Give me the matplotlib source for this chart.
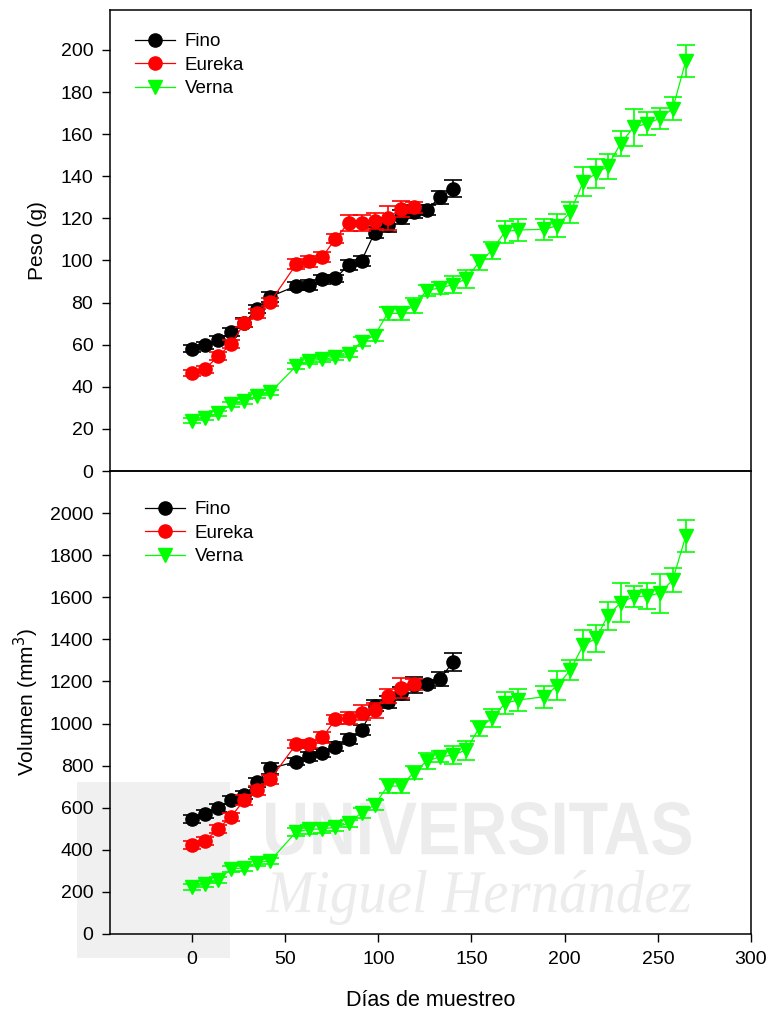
import matplotlib
matplotlib.use('Agg')
import matplotlib.pyplot as plt
from matplotlib.lines import Line2D
from matplotlib.textpath import TextPath
from matplotlib.patches import PathPatch, Rectangle
from matplotlib.font_manager import FontProperties
from matplotlib.transforms import Affine2D

plt.rcParams['font.family'] = ['Liberation Sans', 'DejaVu Sans']

# dias de muestreo
dias_fino = [0, 7, 14, 21, 28, 35, 42, 56, 63, 70, 77, 84, 91, 98, 105, 112, 119, 126, 133, 140]
dias_eureka = [0, 7, 14, 21, 28, 35, 42, 56, 63, 70, 77, 84, 91, 98, 105, 112, 119]
dias_verna = [0, 7, 14, 21, 28, 35, 42, 56, 63, 70, 77, 84, 91, 98, 105, 112, 119, 126,
              133, 140, 147, 154, 161, 168, 175, 189, 196, 203, 210, 217, 223, 230, 237,
              244, 251, 258, 265]

# peso (g)
peso_fino = [58.1, 59.7, 62.1, 66.0, 70.5, 77.0, 82.8, 88.0, 88.2, 91.0, 91.5, 97.9, 99.9,
             113.2, 117.0, 120.5, 123.2, 124.0, 130.0, 134.1]
peso_fino_err = [1.8, 1.8, 1.8, 2.0, 2.0, 2.0, 2.4, 1.8, 2.4, 2.2, 1.8, 2.4, 2.4, 2.6, 3.4,
                 3.3, 3.2, 2.2, 3.2, 4.1]
peso_eureka = [46.7, 48.3, 54.6, 60.2, 70.2, 74.9, 80.3, 98.3, 99.6, 101.7, 110.4, 117.8,
               117.8, 118.9, 120.2, 124.5, 125.4]
peso_eureka_err = [1.5, 1.8, 2.0, 2.0, 2.0, 2.0, 2.0, 2.5, 2.5, 2.3, 2.0, 3.7, 3.7, 3.7,
                   5.7, 3.6, 2.6]
peso_verna = [23.8, 25.3, 27.4, 31.8, 33.1, 35.8, 37.4, 49.9, 52.4, 53.1, 54.0, 55.6, 61.4,
              64.3, 74.9, 74.9, 78.6, 85.7, 87.0, 88.5, 91.2, 99.1, 104.8, 113.7, 114.5,
              114.8, 116.5, 122.9, 137.4, 141.4, 144.7, 155.5, 163.3, 165.0, 167.5, 172.1,
              194.8]
peso_verna_err = [1.2, 1.2, 1.2, 1.2, 1.2, 1.2, 1.2, 1.5, 1.5, 1.5, 1.5, 1.5, 2.2, 2.6, 3.0,
                  3.0, 3.7, 2.8, 2.7, 4.0, 4.5, 3.5, 4.1, 5.3, 5.1, 5.1, 5.4, 5.1, 6.9, 6.9,
                  6.1, 5.9, 8.9, 5.5, 4.9, 5.4, 7.4]

# volumen (mm3)
vol_fino = [546, 570, 600, 637, 660, 720, 787, 819, 844, 861, 890, 926, 969, 1085, 1104,
            1143, 1183, 1188, 1210, 1292]
vol_fino_err = [18, 18, 18, 20, 20, 22, 25, 18, 22, 20, 20, 25, 22, 25, 28, 32, 40, 20, 33, 41]
vol_eureka = [423, 442, 500, 557, 637, 683, 735, 903, 904, 934, 1020, 1026, 1051, 1064,
              1131, 1170, 1186]
vol_eureka_err = [18, 18, 20, 20, 22, 22, 22, 20, 20, 25, 20, 30, 35, 36, 33, 48, 25]
vol_verna = [222, 238, 257, 310, 314, 339, 348, 486, 497, 500, 507, 526, 576, 613, 703, 703,
             766, 822, 842, 850, 874, 977, 1025, 1096, 1112, 1127, 1180, 1254, 1373, 1405,
             1511, 1574, 1603, 1606, 1619, 1682, 1891]
vol_verna_err = [15, 15, 15, 15, 15, 15, 15, 20, 20, 18, 18, 18, 25, 22, 32, 32, 30, 38, 26,
                 44, 45, 34, 43, 52, 53, 51, 68, 46, 70, 63, 68, 92, 51, 63, 92, 58, 77]

nombres = ['Fino', 'Eureka', 'Verna']
colores = ['black', 'red', '#00ff00']
marcadores = ['o', 'o', 'v']

fig = plt.figure(figsize=(7.68, 10.10), dpi=100)
W, H = 768, 1010

# marca de agua (fondo)
fig.add_artist(Rectangle((77, H - 958), 153, 176, transform=None,
                         facecolor='#f0f0f0', edgecolor='none', zorder=-2))


def texto_caja(s, prop, x0, y0, x1, y1, color):
    tp = TextPath((0, 0), s, size=100, prop=prop)
    ext = tp.get_extents()
    sx = (x1 - x0) / ext.width
    sy = (y1 - y0) / ext.height
    tr = Affine2D().translate(-ext.x0, -ext.y0).scale(sx, sy).translate(x0, H - y1)
    p = PathPatch(tr.transform_path(tp), facecolor=color, edgecolor='none',
                  transform=None, zorder=-1)
    fig.add_artist(p)


texto_caja('UNIVERSITAS', FontProperties(family='Liberation Sans', weight='bold'),
           266, 802, 691, 855, '#ececec')
texto_caja('Miguel Hernández', FontProperties(family='Liberation Serif', style='italic'),
           266, 870, 691, 925, '#ececec')

ax1 = fig.add_axes([110 / W, 1 - 471 / H, 641 / W, 461 / H])
ax2 = fig.add_axes([110 / W, 1 - 934 / H, 641 / W, 463 / H])

paneles = [
    (ax1, [peso_fino, peso_eureka, peso_verna],
     [peso_fino_err, peso_eureka_err, peso_verna_err], (0, 219),
     list(range(0, 201, 20)), 'Peso (g)', (0.027, 0.966)),
    (ax2, [vol_fino, vol_eureka, vol_verna],
     [vol_fino_err, vol_eureka_err, vol_verna_err], (0, 2200),
     list(range(0, 2001, 200)), 'Volumen (mm$^3$)', (0.043, 0.951)),
]
dias = [dias_fino, dias_eureka, dias_verna]

for ax, vals, errs, ylim, yt, ylab, leg_pos in paneles:
    ax.set_facecolor('none')
    for i in range(3):
        ax.errorbar(dias[i], vals[i], yerr=errs[i], fmt='none', ecolor=colores[i],
                    elinewidth=1.2, capsize=6.5, capthick=1.2, zorder=2 + i)
        ax.plot(dias[i], vals[i], '-', color=colores[i], marker=marcadores[i],
                ms=9.5, lw=0.9, zorder=2 + i)
    ax.set_xlim(-44, 300)
    ax.set_ylim(*ylim)
    ax.set_yticks(yt)
    ax.tick_params(axis='both', direction='out', length=6, width=1, labelsize=14, pad=6)
    ax.set_ylabel(ylab, fontsize=15)
    for sp in ax.spines.values():
        sp.set_linewidth(1.1)
    hs = [Line2D([], [], color=colores[i], marker=marcadores[i], ms=9.5, lw=0.9)
          for i in range(3)]
    ax.legend(hs, nombres, loc='upper left', bbox_to_anchor=leg_pos, frameon=False,
              fontsize=13.5, handlelength=2.13, labelspacing=0.34, handletextpad=0.53,
              borderpad=0.4, borderaxespad=0)

ax1.tick_params(axis='x', bottom=False, labelbottom=False)
ax2.set_xticks([0, 50, 100, 150, 200, 250, 300])
ax2.set_xlabel('Días de muestreo', fontsize=15.5, labelpad=16)
ax1.yaxis.set_label_coords(-0.098, 0.5)
ax2.yaxis.set_label_coords(-0.108, 0.5)

fig.savefig('out.png', dpi=100)
